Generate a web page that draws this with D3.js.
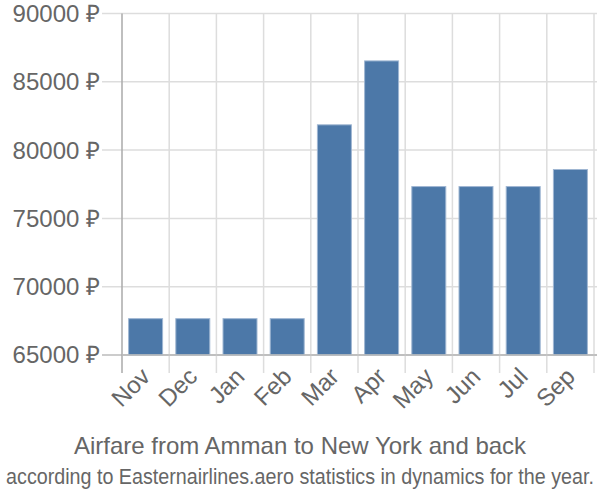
<!doctype html>
<html lang="en">
<head>
  <meta charset="utf-8">
  <title>Airfare chart</title>
  <style>
    * { margin: 0; padding: 0; box-sizing: border-box; }
    body { background: #fff; }
    #container { width: 600px; height: 500px; }
    text { font-family: "Liberation Sans", Arial, sans-serif; fill: #666; }
  </style>
</head>
<body>
  <div id="container"></div>
  <script src="https://cdn.jsdelivr.net/npm/d3@7"></script>
  <script>
    const months = ['Nov', 'Dec', 'Jan', 'Feb', 'Mar', 'Apr', 'May', 'Jun', 'Jul', 'Sep'];
    const prices = [67660, 67660, 67660, 67660, 81850, 86530, 77330, 77330, 77330, 78580];
    const yTicks = [65000, 70000, 75000, 80000, 85000, 90000];

    const svgDim = {w: 600, h: 500};
    const plot = {left: 122, right: 594, top: 13.5, bottom: 355};

    const svg = d3.select('#container').append('svg')
      .attr('width', svgDim.w)
      .attr('height', svgDim.h);

    const scaleX = d3.scaleBand()
      .domain(months)
      .range([plot.left, plot.right])
      .paddingInner(0.28)
      .paddingOuter(0.14);

    const scaleY = d3.scaleLinear()
      .domain([65000, 90000])
      .range([plot.bottom, plot.top]);

    // horizontal grid
    svg.append('g').selectAll('line')
      .data(yTicks)
      .enter().append('line')
      .attr('x1', 102).attr('x2', 597)
      .attr('y1', d => scaleY(d)).attr('y2', d => scaleY(d))
      .attr('stroke', d => d === 65000 ? '#bbb' : '#ddd')
      .attr('stroke-width', 1.5);

    // vertical grid at band edges
    const step = scaleX.step();
    const edges = months.map((m, i) => plot.left + i * step).concat([plot.right]);
    svg.append('g').selectAll('line')
      .data(edges)
      .enter().append('line')
      .attr('x1', d => d).attr('x2', d => d)
      .attr('y1', plot.top).attr('y2', 373)
      .attr('stroke', (d, i) => i === 0 ? '#aaa' : '#ddd')
      .attr('stroke-width', 1.5);

    // y labels
    svg.append('g').selectAll('text')
      .data(yTicks)
      .enter().append('text')
      .attr('x', 100)
      .attr('y', d => scaleY(d))
      .attr('dy', '0.35em')
      .attr('text-anchor', 'end')
      .style('font-size', '24px')
      .text(d => d + ' ₽');

    // bars
    svg.append('g').selectAll('rect')
      .data(months)
      .enter().append('rect')
      .attr('x', d => scaleX(d))
      .attr('y', (d, i) => scaleY(prices[i]))
      .attr('width', scaleX.bandwidth())
      .attr('height', (d, i) => plot.bottom - scaleY(prices[i]))
      .attr('fill', '#4c78a8')
      .attr('stroke', '#9fb6d2')
      .attr('stroke-width', 1);

    // x axis line
    svg.append('line')
      .attr('x1', plot.left).attr('x2', 597)
      .attr('y1', plot.bottom).attr('y2', plot.bottom)
      .attr('stroke', '#bbb').attr('stroke-width', 1.5);

    // x labels
    svg.append('g').selectAll('text')
      .data(months)
      .enter().append('text')
      .attr('transform', d => {
        const x = scaleX(d) + scaleX.bandwidth() / 2 + 6;
        return `translate(${x},378) rotate(-45)`;
      })
      .attr('text-anchor', 'end')
      .style('font-size', '24px')
      .text(d => d);

    svg.append('text')
      .attr('x', 300).attr('y', 454)
      .attr('text-anchor', 'middle')
      .style('font-size', '24px')
      .text('Airfare from Amman to New York and back');

    // subtitle is condensed horizontally to fit the width, as in the original
    const sub = svg.append('text')
      .attr('x', 0).attr('y', 0)
      .attr('text-anchor', 'middle')
      .style('font-size', '22px')
      .text('according to Easternairlines.aero statistics in dynamics for the year.');
    const k = Math.min(1, 588 / sub.node().getComputedTextLength());
    sub.attr('transform', `translate(300,484) scale(${k},1)`);
  </script>
</body>
</html>
